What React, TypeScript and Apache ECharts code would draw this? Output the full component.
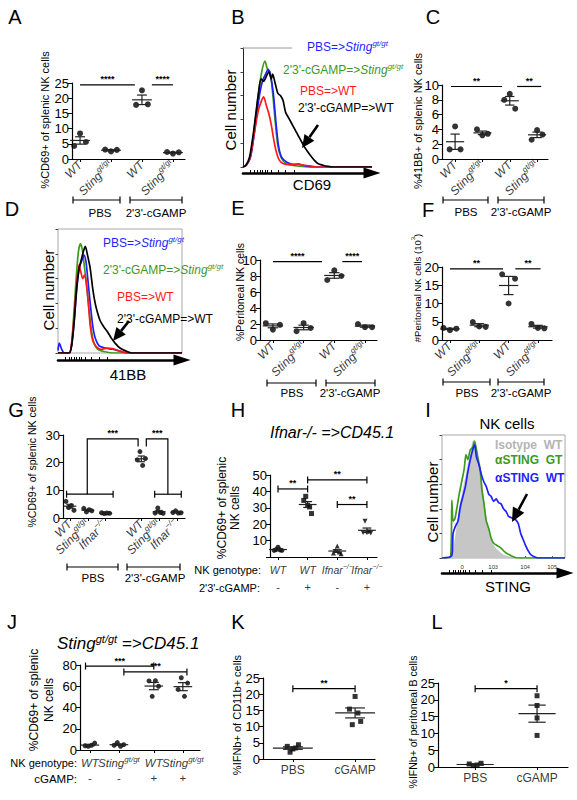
import React, { useEffect, useRef } from 'react';
import * as echarts from 'echarts';

const FONT = '"Liberation Sans", Arial, Helvetica, sans-serif';
const BLUE = '#1f1fff';
const GREEN = '#3c9a1e';
const RED = '#ff1a1a';

// ---------------- dot plot data ----------------
const A_labels = ['WT', 'Sting', 'WT', 'Sting'];
const A_values = [[4.3, 8.4, 5.6], [3.1, 2.5, 3.0], [17.8, 22.6, 18.0], [2.3, 1.8, 2.2]];
const C_labels = ['WT', 'Sting', 'WT', 'Sting'];
const C_values = [[1.3, 4.4, 1.3], [4.0, 3.2, 3.4], [8.0, 8.8, 6.8], [2.6, 3.9, 3.3]];
const E_labels = ['WT', 'Sting', 'WT', 'Sting'];
const E_values = [[2.1, 1.3, 1.9], [1.1, 2.1, 1.5], [7.5, 8.7, 8.0], [2.0, 1.6, 1.6]];
const F_labels = ['WT', 'Sting', 'WT', 'Sting'];
const F_values = [[3.3, 2.7, 3.1], [4.9, 3.7, 3.6], [18.0, 10.0, 16.8], [4.4, 3.3, 3.2]];
const G_labels = ['WT', 'Sting', 'Ifnar', 'WT', 'Sting', 'Ifnar'];
const G_values = [[6.0, 3.8, 4.5, 2.8], [3.5, 2.2, 3.0, 2.6], [1.9, 1.6, 1.8, 1.7], [21.0, 24.0, 19.0, 21.5], [1.8, 3.6, 2.0, 1.7], [2.0, 2.6, 1.8, 1.9]];
const H_genotypes = ['WT', 'WT', 'Ifnar', 'Ifnar'];
const H_cgamp = ['-', '+', '-', '+'];
const H_values = [[4.0, 4.5, 6.0, 4.3, 4.0], [34.5, 37.0, 31.5, 30.5, 26.5], [2.5, 4.0, 6.7, 3.0, 2.0], [15.0, 21.8, 14.8, 15.2, 14.6]];
const J_genotypes = ['WT', 'Sting', 'WT', 'Sting'];
const J_cgamp = ['-', '-', '+', '+'];
const J_values = [[4.0, 3.5, 4.5, 6.5], [4.5, 7.0, 3.5, 5.0], [65.0, 50.5, 65.2, 60.0], [57.0, 68.0, 50.5, 63.0]];
const K_labels = ['PBS', 'cGAMP'];
const K_values = [[3.9, 2.1, 3.1, 3.4, 4.4], [15.4, 10.6, 19.3, 14.2, 11.6]];
const L_labels = ['PBS', 'cGAMP'];
const L_values = [[0.9, 0.4, 0.6, 1.1], [21.2, 18.3, 14.6, 9.4]];

// significance annotations (data units)
const A_sig = [{ pts: [[1, 24.4], [2.77, 24.4]], text: '****' }, { pts: [[3.32, 24.4], [4, 24.4]], text: '****' }];
const C_sig = [{ pts: [[0.85, 9.8], [2.72, 9.8]], text: '**' }, { pts: [[3.27, 9.8], [4.15, 9.8]], text: '**' }];
const E_sig = [{ pts: [[1, 9.8], [2.6, 9.8]], text: '****' }, { pts: [[3.26, 9.8], [3.9, 9.8]], text: '****' }];
const F_sig = [{ pts: [[1, 19.5], [2.81, 19.5]], text: '**' }, { pts: [[3.23, 19.5], [4.09, 19.5]], text: '**' }];
const G_sig = [
  { pts: [[0.81, 8.6], [3.42, 8.6]], ticks: true },
  { pts: [[1.97, 8.6], [1.97, 28.6], [4.82, 28.6], [4.82, 25.8]], text: '***', tx: 3.4, ty: 28.6 },
  { pts: [[5.28, 25.8], [5.28, 28.6], [6.49, 28.6], [6.49, 8.6]], text: '***', tx: 5.9, ty: 28.6 },
  { pts: [[5.75, 8.6], [7.24, 8.6]], ticks: true },
];
const H_sig = [
  { pts: [[1, 41.5], [2, 41.5]], ticks: true, text: '**' },
  { pts: [[2, 47], [4, 47]], ticks: true, text: '**' },
  { pts: [[3, 32], [4, 32]], ticks: true, text: '**' },
];
const J_sig = [
  { pts: [[0.85, 79], [3.2, 79]], ticks: true, text: '***' },
  { pts: [[2.17, 73.5], [4.34, 73.5]], ticks: true, text: '***' },
];
const K_sig = [{ pts: [[1, 21.7], [2, 21.7]], ticks: true, text: '**' }];
const L_sig = [{ pts: [[1, 23.3], [2, 23.3]], ticks: true, text: '*' }];

// ---------------- flow histograms ([channel, count %]) ----------------
const B_green = [[0, 0], [3, 2], [6, 10], [9, 35], [12, 62], [14.5, 80], [17, 89], [19, 82], [21, 80], [23, 62], [25, 38], [27, 18], [29.5, 8], [33, 3], [38, 1.5], [45, 0.5], [50, 0], [100, 0]];
const B_blue = [[0, 0], [3, 2], [6, 9], [9, 30], [12, 55], [15, 72], [17.5, 78], [19.5, 82], [21.5, 76], [23.5, 62], [25.5, 38], [27.5, 18], [30, 8], [34, 4], [40, 2], [43, 2.5], [48, 1], [55, 0], [100, 0]];
const B_red = [[0, 0], [3, 2], [6, 10], [9, 30], [12, 48], [14.5, 56], [16, 59], [18, 52], [20, 45], [22, 35], [24, 22], [26, 12], [28, 6], [31, 3], [36, 2], [42, 2.5], [47, 1.5], [52, 1], [57, 0], [100, 0]];
const B_black = [[0, 0], [2, 1], [5, 8], [8, 28], [10, 45], [12, 62], [14, 74], [16, 72], [18, 76], [20, 80], [22, 74], [23, 78], [25, 70], [27, 62], [29, 60], [31, 56], [33, 46], [35, 42], [37, 38], [40, 32], [42, 28], [44, 24], [47, 18], [50, 13], [52, 10], [55, 6], [58, 3], [62, 1.5], [66, 0.5], [70, 0], [100, 0]];

const D_blue = [[0, 2], [1, 8], [3, 3], [5, 0], [9, 0], [11, 6], [13, 25], [15, 50], [17, 68], [19, 74], [21, 79], [22.5, 74], [24, 60], [26, 40], [28, 22], [30, 12], [33, 6], [38, 4], [44, 3], [50, 1.5], [56, 0], [100, 0]];
const D_green = [[0, 0], [9, 0], [11, 8], [13, 35], [15, 65], [16.5, 82], [18, 88], [19.5, 84], [21, 72], [23, 55], [25, 35], [27, 18], [29, 8], [32, 3], [38, 1], [45, 0], [100, 0]];
const D_red = [[0, 0], [9, 0], [11, 8], [13, 30], [15, 55], [17, 71], [18.5, 65], [20, 60], [21.5, 63], [23, 55], [24.5, 40], [26, 22], [28, 10], [31, 5], [35, 3], [40, 4], [44, 3.5], [50, 1.5], [56, 0], [100, 0]];
const D_black = [[0, 0], [9, 0], [11, 6], [13, 25], [15, 52], [17, 68], [19, 76], [20.5, 82], [22, 86], [24, 78], [26, 68], [28, 52], [30, 40], [32, 32], [34, 26], [37, 21], [40, 17], [43, 12], [46, 8], [50, 4], [55, 1.5], [60, 0], [100, 0]];

const I_iso = [[0, 0], [8, 0], [10, 8], [12, 22], [14, 38], [16, 48], [18, 58], [20, 68], [22, 78], [24, 86], [25.5, 95], [27, 92], [28.5, 84], [30, 72], [32, 60], [34, 45], [36, 30], [38, 20], [40, 13], [43, 8], [46, 5], [50, 2], [55, 0.5], [60, 0], [100, 0]];
const I_green = [[0, 0], [7, 1], [8, 47], [9, 30], [10.5, 32], [12, 40], [14, 52], [16, 62], [18, 72], [19.5, 84], [21, 80], [23, 88], [25, 90], [26.5, 95], [28, 88], [29.5, 80], [31, 72], [32.5, 55], [34, 45], [36, 30], [38, 24], [40, 16], [42, 12], [45, 10], [48, 8], [51, 5], [54, 3], [58, 1], [62, 0], [100, 0]];
const I_blue = [[0, 0], [8, 2], [9, 20], [11, 26], [13, 30], [15, 42], [17, 50], [19, 58], [21, 70], [23, 80], [25, 88], [26.5, 92], [28, 82], [30, 76], [32, 68], [34, 62], [36, 58], [38, 52], [40, 50], [42, 46], [44, 48], [46, 45], [48, 44], [50, 40], [52, 38], [54, 34], [56, 33], [58, 32], [60, 31], [62, 28], [64, 20], [66, 15], [68, 10], [70, 6], [72, 3], [75, 1], [78, 0], [100, 0]];
const I_tickValues = [16.3, 41.5, 67.5, 89.4];
const I_tickLabels = ['0', '10{s|3}', '10{s|4}', '10{s|5}'];

// ---------------- helpers ----------------
const mean = (a: number[]) => a.reduce((s, v) => s + v, 0) / a.length;
const sem = (a: number[]) => {
  const m = mean(a);
  const v = a.reduce((s, x) => s + (x - m) * (x - m), 0) / (a.length - 1);
  return Math.sqrt(v / a.length);
};

function rich(size: number, color = '#000') {
  const ss = Math.round(size * 0.68);
  return {
    n: { fontSize: size, fontFamily: FONT, color, fill: color, lineHeight: size + 4 },
    it: { fontSize: size, fontFamily: FONT, fontStyle: 'italic', color, fill: color, lineHeight: size + 4 },
    b: { fontSize: size, fontFamily: FONT, fontWeight: 'bold', color, fill: color, lineHeight: size + 4 },
    s: { fontSize: ss, fontFamily: FONT, fontStyle: 'italic', color, fill: color, verticalAlign: 'top', lineHeight: ss + 1 },
    sn: { fontSize: ss, fontFamily: FONT, color, fill: color, verticalAlign: 'top', lineHeight: ss + 1 },
  } as any;
}

function gene(key: string) {
  if (key === 'Sting') return '{it|Sting}{s|gt/gt}';
  if (key === 'Ifnar') return '{it|Ifnar}{s|\u2212/\u2212}';
  if (key === 'WT') return '{it|WT}';
  return '{n|' + key + '}';
}

function T(text: string, x: number, y: number, o: any = {}) {
  const align = o.align || 'center';
  const va = o.va || 'middle';
  return {
    type: 'text', x, y, rotation: o.rot || 0, z: 20,
    style: {
      text, fontSize: o.size || 12, fontFamily: FONT,
      fontStyle: o.italic ? 'italic' : 'normal', fontWeight: o.bold ? 'bold' : 'normal',
      fill: o.color || '#000', align, verticalAlign: va, textAlign: align, textVerticalAlign: va,
      lineHeight: o.lh, rich: o.rich,
    },
  };
}
function L(x1: number, y1: number, x2: number, y2: number, w = 1.2, c = '#000') {
  return { type: 'line', z: 20, shape: { x1, y1, x2, y2 }, style: { stroke: c, lineWidth: w } };
}
function bracket(x1: number, x2: number, y: number) {
  return [L(x1, y, x2, y), L(x1, y - 3.5, x1, y + 3.5), L(x2, y - 3.5, x2, y + 3.5)];
}
function arrow(x1: number, y1: number, x2: number, y2: number, head = 13, w = 12) {
  const dx = x2 - x1, dy = y2 - y1, len = Math.hypot(dx, dy);
  const ux = dx / len, uy = dy / len;
  const bx = x2 - ux * head, by = y2 - uy * head;
  const px = -uy, py = ux;
  return [
    L(x1, y1, bx, by, 2.6),
    { type: 'polygon', z: 20, shape: { points: [[x2, y2], [bx + px * w / 2, by + py * w / 2], [bx - px * w / 2, by - py * w / 2]] }, style: { fill: '#000' } },
  ];
}

// ---------------- panel layouts ----------------
const dotPanels: any[] = [
  { box: [72, 83, 113, 76], xr: [0.74, 4.39], xs: [1, 2, 3, 4], labels: A_labels, mode: 'rot', values: A_values, yr: [25, 5], jit: 0.19, size: 6, mh: 0.32, sh: 0.16, sig: A_sig },
  { box: [442, 85, 106, 74], xr: [0.52, 4.4], xs: [1, 2, 3, 4], labels: C_labels, mode: 'rot', values: C_values, yr: [10, 2], jit: 0.2, size: 6, mh: 0.33, sh: 0.17, sig: C_sig },
  { box: [260, 260, 117, 80], xr: [0.58, 4.39], xs: [1, 2, 3, 4], labels: E_labels, mode: 'rot', values: E_values, yr: [10, 2], jit: 0.23, size: 6, mh: 0.33, sh: 0.17, sig: E_sig },
  { box: [442, 267, 110, 73], xr: [0.73, 4.48], xs: [1, 2, 3, 4], labels: F_labels, mode: 'rot', values: F_values, yr: [20, 5], jit: 0.22, size: 6, mh: 0.33, sh: 0.17, sig: F_sig },
  { box: [63, 435, 122, 83], xr: [0.61, 7.45], xs: [1, 2, 3, 5, 6, 7], labels: G_labels, mode: 'rot', values: G_values, yr: [30, 10], jit: 0.15, size: 5, mh: 0.36, sh: 0.2, sig: G_sig },
  { box: [270, 475, 107, 82], xr: [0.73, 4.34], xs: [1, 2, 3, 4], labels: H_genotypes, treat: H_cgamp, mode: 'geno', gsize: 10.5, gDist: 6, tDist: 24, tsize: 11, values: H_values, yr: [50, 10], hideZero: true, jit: 0.065, size: 5, syms: ['circle', 'rect', 'triangle', 'path://M0,0L10,0L5,9Z'], mh: 0.3, sh: 0.15, sig: H_sig },
  { box: [80, 665, 120, 85], xr: [0.66, 4.79], xs: [1, 2, 3.2, 4.2], labels: J_genotypes, treat: J_cgamp, mode: 'geno', gsize: 11.5, gDist: 5, tDist: 22, tsize: 11.5, values: J_values, yr: [80, 20], jit: 0.11, size: 5, mh: 0.32, sh: 0.17, sig: J_sig },
  { box: [263, 678, 112, 81], xr: [0.52, 2.32], xs: [1, 2], labels: K_labels, mode: 'plain', values: K_values, yr: [25, 5], jit: 0.045, size: 5, sym: 'rect', mh: 0.32, sh: 0.16, sig: K_sig },
  { box: [438, 683, 130, 84], xr: [0.4, 2.5], xs: [1, 2], labels: L_labels, mode: 'plain', values: L_values, yr: [25, 5], jit: [0.063, 0], size: 5, sym: 'rect', mh: 0.3, sh: 0.14, sig: L_sig },
];

const histPanels: any[] = [
  { box: [243, 48, 129, 119], border: false, arrowOffset: 6, curves: [{ d: B_green, c: GREEN }, { d: B_blue, c: BLUE }, { d: B_red, c: RED }, { d: B_black, c: '#000' }] },
  { box: [58, 229, 124, 124], border: true, arrowOffset: 7, curves: [{ d: D_green, c: GREEN }, { d: D_blue, c: BLUE }, { d: D_red, c: RED }, { d: D_black, c: '#000' }] },
  { box: [442, 435, 123, 123], border: true, arrowOffset: 15, tickLabels: true, curves: [{ d: I_iso, c: '#c6c6c6', fill: true }, { d: I_green, c: GREEN }, { d: I_blue, c: BLUE }] },
];

function labelSeries(xi: number, yi: number, xs: number[], label: any) {
  return {
    type: 'scatter', xAxisIndex: xi, yAxisIndex: yi, silent: true, symbol: 'circle', symbolSize: 0.01,
    itemStyle: { color: '#000', borderWidth: 0 },
    data: xs.map((x: number) => [x, 0]), label, labelLayout: { hideOverlap: false }, z: 6, clip: false,
  };
}

function buildOption() {
  const grid: any[] = [], xAxis: any[] = [], yAxis: any[] = [], series: any[] = [];

  dotPanels.forEach((p) => {
    const gi = grid.length;
    grid.push({ left: p.box[0], top: p.box[1], width: p.box[2], height: p.box[3] });
    const xi = xAxis.length, yi = yAxis.length;
    xAxis.push({
      gridIndex: gi, type: 'value', min: p.xr[0], max: p.xr[1], splitLine: { show: false },
      axisLine: { show: true, onZero: false, lineStyle: { color: '#000', width: 1.2 } },
      axisTick: { show: true, customValues: p.xs, length: 3, lineStyle: { color: '#000' } },
      axisLabel: { show: false },
    });
    yAxis.push({
      gridIndex: gi, type: 'value', min: 0, max: p.yr[0], interval: p.yr[1], splitLine: { show: false },
      axisLine: { show: true, onZero: false, lineStyle: { color: '#000', width: 1.2 } },
      axisTick: { show: true, length: 4, lineStyle: { color: '#000' } },
      axisLabel: { fontSize: 13, color: '#000', margin: 3, fontFamily: FONT, showMinLabel: true, showMaxLabel: true, formatter: (v: number) => (p.hideZero && v === 0 ? '' : String(v)) },
    });

    // category labels under the x axis, placed at the group positions through the axis scale
    if (p.mode === 'rot') {
      series.push(labelSeries(xi, yi, p.xs, { show: true, color: '#000', position: 'bottom', distance: 4, rotate: 45, align: 'right', verticalAlign: 'middle', rich: rich(12), formatter: (pr: any) => gene(p.labels[pr.dataIndex]) }));
    } else if (p.mode === 'geno') {
      series.push(labelSeries(xi, yi, p.xs, { show: true, color: '#000', position: 'bottom', distance: p.gDist, align: 'center', verticalAlign: 'top', rich: rich(p.gsize), formatter: (pr: any) => gene(p.labels[pr.dataIndex]) }));
      series.push(labelSeries(xi, yi, p.xs, { show: true, color: '#000', position: 'bottom', distance: p.tDist, align: 'center', verticalAlign: 'top', fontSize: p.tsize, fontFamily: FONT, formatter: (pr: any) => p.treat[pr.dataIndex] }));
    } else {
      series.push(labelSeries(xi, yi, p.xs, { show: true, color: '#000', position: 'bottom', distance: 5, align: 'center', verticalAlign: 'top', fontSize: 12, fontFamily: FONT, formatter: (pr: any) => p.labels[pr.dataIndex] }));
    }

    const pts: any[] = [];
    p.values.forEach((vals: number[], g: number) => {
      const step = Array.isArray(p.jit) ? p.jit[g] : p.jit;
      vals.forEach((v, k) => {
        const item: any = { value: [p.xs[g] + (k - (vals.length - 1) / 2) * step, v] };
        if (p.syms) item.symbol = p.syms[g];
        pts.push(item);
      });
    });
    series.push({ type: 'scatter', xAxisIndex: xi, yAxisIndex: yi, data: pts, symbol: p.sym || 'circle', symbolSize: p.size, itemStyle: { color: '#000' }, z: 3, silent: true });
    series.push({
      type: 'custom', xAxisIndex: xi, yAxisIndex: yi, z: 4, silent: true,
      data: p.values.map((vals: number[], g: number) => [p.xs[g], mean(vals), sem(vals)]),
      renderItem: (params: any, api: any) => {
        const x = api.value(0), m = api.value(1), se = api.value(2);
        const a = api.coord([x - p.mh, m]), b = api.coord([x + p.mh, m]);
        const t1 = api.coord([x - p.sh, m + se]), t2 = api.coord([x + p.sh, m + se]);
        const b1 = api.coord([x - p.sh, m - se]), b2 = api.coord([x + p.sh, m - se]);
        const st = { stroke: '#222', lineWidth: 1.2 };
        return {
          type: 'group', children: [
            { type: 'line', shape: { x1: a[0], y1: a[1], x2: b[0], y2: b[1] }, style: st },
            { type: 'line', shape: { x1: (t1[0] + t2[0]) / 2, y1: t1[1], x2: (b1[0] + b2[0]) / 2, y2: b1[1] }, style: st },
            { type: 'line', shape: { x1: t1[0], y1: t1[1], x2: t2[0], y2: t2[1] }, style: st },
            { type: 'line', shape: { x1: b1[0], y1: b1[1], x2: b2[0], y2: b2[1] }, style: st },
          ],
        };
      },
    });
    series.push({
      type: 'custom', xAxisIndex: xi, yAxisIndex: yi, z: 5, silent: true, clip: false,
      data: p.sig.map((s: any) => s.pts[0]),
      renderItem: (params: any, api: any) => {
        const s = p.sig[params.dataIndex];
        const pp = s.pts.map((pt: number[]) => api.coord(pt));
        const st = { stroke: '#000', lineWidth: 1.2, fill: null };
        const children: any[] = [{ type: 'polyline', shape: { points: pp }, style: st }];
        if (s.ticks) {
          const f = pp[0], l = pp[pp.length - 1];
          children.push({ type: 'line', shape: { x1: f[0], y1: f[1] - 3.5, x2: f[0], y2: f[1] + 3.5 }, style: st });
          children.push({ type: 'line', shape: { x1: l[0], y1: l[1] - 3.5, x2: l[0], y2: l[1] + 3.5 }, style: st });
        }
        if (s.text) {
          const tx = s.tx != null ? s.tx : (s.pts[0][0] + s.pts[s.pts.length - 1][0]) / 2;
          const ty = s.ty != null ? s.ty : s.pts[0][1];
          const c = api.coord([tx, ty]);
          children.push({ type: 'text', x: c[0], y: c[1] - 1, style: { text: s.text, fontSize: 9, fontWeight: 'bold', fontFamily: FONT, fill: '#000', align: 'center', verticalAlign: 'bottom', textAlign: 'center', textVerticalAlign: 'bottom' } });
        }
        return { type: 'group', children };
      },
    });
  });

  histPanels.forEach((h) => {
    const gi = grid.length;
    grid.push({ left: h.box[0], top: h.box[1], width: h.box[2], height: h.box[3], show: h.border, borderColor: '#a8a8a8', borderWidth: 1, backgroundColor: 'transparent' });
    const xi = xAxis.length, yi = yAxis.length;
    if (h.tickLabels) {
      xAxis.push({
        gridIndex: gi, type: 'value', min: 0, max: 100, splitLine: { show: false },
        axisLine: { show: false }, axisTick: { show: true, inside: true, customValues: I_tickValues, length: 2, lineStyle: { color: '#555' } },
        axisLabel: {
          show: true, customValues: I_tickValues, margin: 6, showMinLabel: true, showMaxLabel: true, hideOverlap: false,
          formatter: (v: number) => { let b = 0; I_tickValues.forEach((t, i) => { if (Math.abs(t - v) < Math.abs(I_tickValues[b] - v)) b = i; }); return I_tickLabels[b]; },
          rich: { s: { fontSize: 5, color: '#333', verticalAlign: 'top', lineHeight: 5 } }, fontSize: 6, color: '#333', fontFamily: FONT,
        },
      });
    }
    const ai = xAxis.length;
    xAxis.push({
      gridIndex: gi, type: 'value', min: 0, max: 100, position: 'bottom', offset: h.arrowOffset, splitLine: { show: false },
      axisLine: { show: true, onZero: false, symbol: ['none', 'triangle'], symbolSize: [11, 17], lineStyle: { color: '#000', width: 2.6 } },
      axisTick: { show: true, inside: true, length: 3, customValues: [6, 9, 11, 13, 15, 17, 19, 22, 27, 33, 40], lineStyle: { color: '#000', width: 1 } },
      axisLabel: { show: false },
    });
    yAxis.push({
      gridIndex: gi, type: 'value', min: 0, max: 100, interval: 20, splitLine: { show: false },
      axisLine: { show: !h.border, onZero: false, lineStyle: { color: '#222', width: 1 } },
      axisTick: { show: true, length: 2.5, lineStyle: { color: '#444' } },
      axisLabel: { show: false },
    });
    const useX = h.tickLabels ? xi : ai;
    h.curves.forEach((c: any) => {
      series.push({
        type: 'line', xAxisIndex: useX, yAxisIndex: yi, data: c.d, showSymbol: false, smooth: 0.25, silent: true,
        lineStyle: { color: c.c, width: 1.7 }, itemStyle: { color: c.c },
        areaStyle: c.fill ? { color: c.c, opacity: 1 } : undefined, z: 2,
      });
    });
  });

  const g: any[] = [];
  // panel letters
  ([['A', 15, 17], ['B', 238, 17], ['C', 433, 17], ['D', 12, 209], ['E', 238, 208], ['F', 428, 210], ['G', 16, 410], ['H', 238, 410], ['I', 428, 410], ['J', 12, 622], ['K', 238, 622], ['L', 437, 622]] as any[]).forEach((l) => g.push(T(l[0], l[1], l[2], { size: 20 })));

  // y-axis titles
  const rot = Math.PI / 2;
  g.push(T('%CD69+ of splenic NK cells', 45, 120, { size: 11, rot }));
  g.push(T('%41BB+ of splenic NK cells', 418, 121, { size: 11, rot }));
  g.push(T('%Peritoneal NK cells', 240, 292, { size: 10.5, rot }));
  g.push(T('{n|#Peritoneal NK cells (10}{sn|3}{n|)}', 417, 288, { size: 9.5, rot, rich: rich(9.5) }));
  g.push(T('%CD69+ of splenic NK cells', 32, 462, { size: 10.5, rot }));
  g.push(T('%CD69+ of splenic\nNK cells', 228, 508, { size: 12, rot, lh: 13 }));
  g.push(T('%CD69+ of splenic\nNK cells', 41, 700, { size: 12, rot, lh: 15 }));
  g.push(T('%IFNb+ of CD11b+ cells', 237, 715, { size: 11, rot }));
  g.push(T('%IFNb+ of peritoneal B cells', 413, 722, { size: 10.5, rot }));

  // group brackets
  const gb = (x1: number, x2: number, y: number, x2a: number, x2b: number, ly: number, c1: number, c2: number) => {
    g.push(...bracket(x1, x2, y), ...bracket(x2a, x2b, y));
    g.push(T('PBS', c1, ly, { size: 11.5 }));
    g.push(T("2'3'-cGAMP", c2, ly, { size: 11.5 }));
  };
  gb(73, 120, 200, 130, 182, 213, 100, 156);
  gb(443, 488, 200, 498, 544, 212, 466, 521);
  gb(267, 316, 383, 326, 375, 393, 292, 350);
  gb(443, 490, 382, 498, 544, 393, 467, 521);
  gb(67, 118, 567, 127, 180, 578, 93, 155);

  // histogram texts
  g.push(T('Cell number', 230, 110, { size: 15, rot }));
  g.push(T('Cell number', 48, 290, { size: 15, rot }));
  g.push(T('Cell number', 432, 502, { size: 15, rot }));
  g.push(T('CD69', 312, 184, { size: 15 }));
  g.push(T('41BB', 128, 374, { size: 15 }));
  g.push(T('STING', 508, 586, { size: 15 }));
  g.push(T('NK cells', 507, 423, { size: 15 }));
  g.push(L(243, 48, 292, 48, 1, '#9a9a9a'));

  const leg = (txt: string, x: number, y: number, color: string) => g.push(T(txt, x, y, { align: 'left', size: 12, color, rich: rich(12, color) }));
  leg('{n|PBS=>}{it|Sting}{s|gt/gt}', 307, 47, BLUE);
  leg("{n|2'3'-cGAMP=>}{it|Sting}{s|gt/gt}", 283, 70, GREEN);
  leg('{n|PBS=>WT}', 300, 91, RED);
  leg("{n|2'3'-cGAMP=>WT}", 298, 108, '#000');
  leg('{n|PBS=>}{it|Sting}{s|gt/gt}', 103, 243, BLUE);
  leg("{n|2'3'-cGAMP=>}{it|Sting}{s|gt/gt}", 103, 270, GREEN);
  leg('{n|PBS=>WT}', 117, 297, RED);
  leg("{n|2'3'-cGAMP=>WT}", 117, 319, '#000');
  g.push(T('Isotype  WT', 495, 445, { align: 'left', size: 12, bold: true, color: '#b4b4b4' }));
  g.push(T('\u03b1STING  GT', 495, 460, { align: 'left', size: 12, bold: true, color: GREEN }));
  g.push(T('\u03b1STING  WT', 495, 478, { align: 'left', size: 12, bold: true, color: BLUE }));
  g.push(...arrow(318, 125, 302, 148));
  g.push(...arrow(129, 321, 113, 341));
  g.push(...arrow(527, 494, 512, 522, 14, 13));

  // H and J titles and row headers
  g.push(T('Ifnar-/- =>CD45.1', 270, 432, { align: 'left', size: 16, italic: true }));
  g.push(T('{i|Sting}{s|gt/gt}{i| =>CD45.1}', 57, 643, { align: 'left', size: 17, rich: { i: { fontSize: 17, fontStyle: 'italic', fontFamily: FONT, fill: '#000', lineHeight: 20 }, s: { fontSize: 11, fontStyle: 'italic', fontFamily: FONT, fill: '#000', verticalAlign: 'top', lineHeight: 12 } } }));
  g.push(T('NK genotype:', 261, 570, { align: 'right', size: 11 }));
  g.push(T("2'3'-cGAMP:", 260, 588, { align: 'right', size: 11 }));
  g.push(T('NK genotype:', 77, 763, { align: 'right', size: 11 }));
  g.push(T('cGAMP:', 77, 779, { align: 'right', size: 11.5 }));

  return {
    animation: false,
    backgroundColor: '#fff',
    textStyle: { fontFamily: FONT },
    grid, xAxis, yAxis, series,
    graphic: { elements: g },
  };
}

export default function App() {
  const ref = useRef<HTMLDivElement>(null);
  useEffect(() => {
    if (!ref.current) return;
    const chart = echarts.init(ref.current, null, { renderer: 'svg' });
    chart.setOption(buildOption() as any);
    return () => chart.dispose();
  }, []);
  return <div ref={ref} style={{ position: 'absolute', left: 0, top: 0, width: 577, height: 800, background: '#fff' }} />;
}
